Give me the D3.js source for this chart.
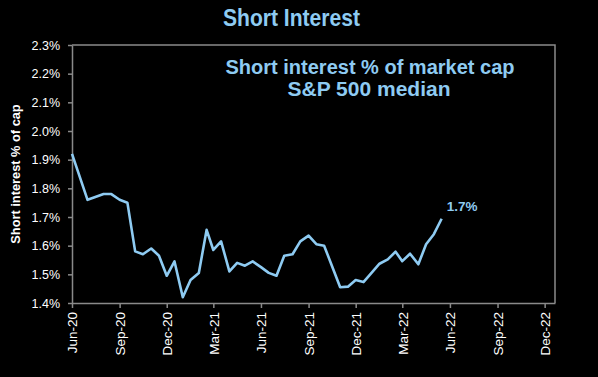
<!DOCTYPE html>
<html>
<head>
<meta charset="utf-8">
<script src="https://cdn.jsdelivr.net/npm/d3@7"></script>
<style>
  html, body { margin: 0; padding: 0; background: #000; }
  svg { display: block; }
</style>
</head>
<body>
<div id="chart"></div>
<script>
(function () {

// semi-monthly observations, Jun-20 .. mid-May-22
const dates = [
    '2020-06-01', '2020-06-16', '2020-07-01', '2020-07-16', '2020-08-01', '2020-08-16',
    '2020-09-01', '2020-09-16', '2020-10-01', '2020-10-16', '2020-11-01', '2020-11-16',
    '2020-12-01', '2020-12-16', '2021-01-01', '2021-01-16', '2021-02-01', '2021-02-16',
    '2021-03-01', '2021-03-16', '2021-04-01', '2021-04-16', '2021-05-01', '2021-05-16',
    '2021-06-01', '2021-06-16', '2021-07-01', '2021-07-16', '2021-08-01', '2021-08-16',
    '2021-09-01', '2021-09-16', '2021-10-01', '2021-10-16', '2021-11-01', '2021-11-16',
    '2021-12-01', '2021-12-16', '2022-01-01', '2022-01-16', '2022-02-01', '2022-02-16',
    '2022-03-01', '2022-03-16', '2022-04-01', '2022-04-16', '2022-05-01', '2022-05-16',
];
const shortInterest = [
    1.92, 1.84, 1.76, 1.77, 1.78, 1.78,
    1.76, 1.75, 1.58, 1.57, 1.59, 1.565,
    1.495, 1.545, 1.42, 1.48, 1.505, 1.655,
    1.585, 1.615, 1.51, 1.54, 1.53, 1.545,
    1.525, 1.505, 1.495, 1.565, 1.57, 1.615,
    1.635, 1.605, 1.60, 1.53, 1.455, 1.457,
    1.48, 1.473, 1.506, 1.537, 1.552, 1.579,
    1.546, 1.572, 1.535, 1.605, 1.64, 1.694,
];

const yTicks = [1.4, 1.5, 1.6, 1.7, 1.8, 1.9, 2.0, 2.1, 2.2, 2.3];
const xTicks = ['Jun-20', 'Sep-20', 'Dec-20', 'Mar-21', 'Jun-21', 'Sep-21',
    'Dec-21', 'Mar-22', 'Jun-22', 'Sep-22', 'Dec-22'];

const lastLabel = '1.7%';

const [WIDTH, HEIGHT] = [598, 377];
const margin = { top: 45, right: 43, bottom: 74, left: 72 };
const LINE_COLOR = '#8ecbf2';
const TEXT_BLUE = '#8ecbf2';
const AXIS_GREY = '#8a8a8a';

const parseDate = d3.timeParse('%Y-%m-%d');
const parseTick = d3.timeParse('%b-%y');

const data = dates.map((d, i) => ({ date: parseDate(d), value: shortInterest[i] }));

const svg = d3.select('#chart').append('svg')
    .attr('width', WIDTH)
    .attr('height', HEIGHT)
    .style('background', '#000')
    .style('font-family', 'Arial, "Liberation Sans", sans-serif');

const x = d3.scaleTime()
    .domain([parseDate('2020-06-01'), parseDate('2022-12-21')])
    .range([margin.left, WIDTH - margin.right]);

const y = d3.scaleLinear()
    .domain([1.4, 2.3])
    .range([HEIGHT - margin.bottom, margin.top]);

// title (condensed look, no narrow font installed)
svg.append('text')
    .attr('x', 223)
    .attr('y', 26)
    .attr('textLength', 137)
    .attr('lengthAdjust', 'spacingAndGlyphs')
    .attr('fill', TEXT_BLUE)
    .style('font-weight', 'bold')
    .style('font-size', '24px')
    .text('Short Interest');

// frame (top and right)
svg.append('path')
    .attr('d', `M${margin.left},${margin.top}H${WIDTH - margin.right}V${HEIGHT - margin.bottom}`)
    .attr('fill', 'none')
    .attr('stroke', AXIS_GREY)
    .attr('stroke-width', 1.5);

// y axis
const yAxis = svg.append('g')
    .attr('transform', `translate(${margin.left},0)`)
    .call(d3.axisLeft(y)
        .tickValues(yTicks)
        .tickSize(4)
        .tickSizeOuter(0)
        .tickPadding(8)
        .tickFormat((d) => d.toFixed(1) + '%'));

yAxis.selectAll('text')
    .attr('fill', '#fff')
    .style('font-size', '12.5px');

// x axis
const xAxis = svg.append('g')
    .attr('transform', `translate(0,${HEIGHT - margin.bottom})`)
    .call(d3.axisBottom(x)
        .tickValues(xTicks.map(parseTick))
        .tickSize(5)
        .tickSizeOuter(0)
        .tickFormat(d3.timeFormat('%b-%y')));

xAxis.selectAll('text')
    .attr('fill', '#fff')
    .style('font-size', '13.5px')
    .attr('text-anchor', 'end')
    .attr('dy', '0.35em')
    .attr('transform', 'rotate(-90) translate(-9,0)')
    .attr('x', 0)
    .attr('y', 0);

svg.selectAll('.domain, .tick line')
    .attr('stroke', AXIS_GREY)
    .attr('stroke-width', 1.5);

// y axis title
svg.append('text')
    .attr('transform', `translate(20,${(margin.top + HEIGHT - margin.bottom) / 2}) rotate(-90)`)
    .attr('text-anchor', 'middle')
    .attr('fill', '#fff')
    .style('font-weight', 'bold')
    .style('font-size', '12.8px')
    .text('Short interest % of cap');

// inner caption
const caption = svg.append('text')
    .attr('text-anchor', 'middle')
    .attr('fill', TEXT_BLUE)
    .style('font-weight', 'bold');
caption.append('tspan').attr('x', 370).attr('y', 74)
    .style('font-size', '20px').text('Short interest % of market cap');
caption.append('tspan').attr('x', 369).attr('y', 96)
    .style('font-size', '21px').text('S&P 500 median');

// the series
const line = d3.line()
    .x((d) => x(d.date))
    .y((d) => y(d.value));

svg.append('path')
    .datum(data)
    .attr('d', line)
    .attr('fill', 'none')
    .attr('stroke', LINE_COLOR)
    .attr('stroke-width', 2.6)
    .attr('stroke-linejoin', 'round');

// last value label
const last = data[data.length - 1];
svg.append('text')
    .attr('x', x(last.date) + 5)
    .attr('y', y(last.value) - 8)
    .attr('fill', TEXT_BLUE)
    .style('font-weight', 'bold')
    .style('font-size', '13.5px')
    .text(lastLabel);

})();
</script>
</body>
</html>
